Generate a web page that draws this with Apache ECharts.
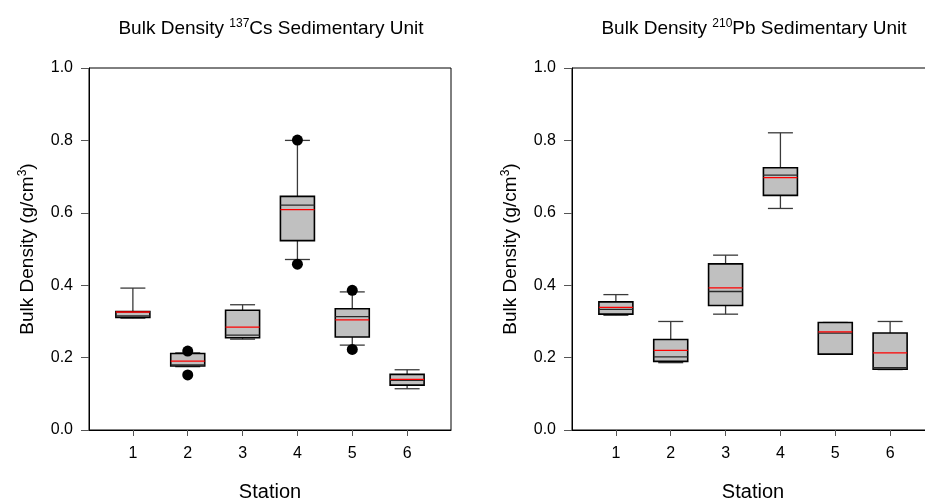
<!DOCTYPE html>
<html>
<head>
<meta charset="utf-8">
<script src="https://cdn.jsdelivr.net/npm/echarts@6/dist/echarts.min.js"></script>
<style>
  html, body { margin: 0; padding: 0; background: #fff; }
  #chart { width: 925px; height: 502px; }
</style>
</head>
<body>
<div id="chart"></div>
<script>
// Stations sampled in each sedimentary unit
const stations = [1, 2, 3, 4, 5, 6];

// 137Cs sedimentary unit: bulk density statistics per station (g/cm3)
const csWhiskerLow  = [0.309, 0.175, 0.251, 0.471, 0.2345, 0.114];
const csQ1          = [0.311, 0.177, 0.255, 0.523, 0.257, 0.124];
const csMedian      = [0.315, 0.180, 0.262, 0.621, 0.313, 0.137];
const csQ3          = [0.327, 0.2115, 0.331, 0.6455, 0.335, 0.1536];
const csWhiskerHigh = [0.392, 0.213, 0.346, 0.800, 0.3815, 0.1664];
const csMean        = [0.326, 0.190, 0.284, 0.609, 0.304, 0.140];
const csOutlierStation = [2, 2, 4, 4, 5, 5];
const csOutlierValue   = [0.218, 0.152, 0.801, 0.458, 0.386, 0.2226];

// 210Pb sedimentary unit: bulk density statistics per station (g/cm3)
const pbWhiskerLow  = [0.317, 0.186, 0.320, 0.612, 0.2097, 0.167];
const pbQ1          = [0.320, 0.1895, 0.344, 0.648, 0.2097, 0.168];
const pbMedian      = [0.333, 0.202, 0.3826, 0.704, 0.2676, 0.172];
const pbQ3          = [0.354, 0.250, 0.459, 0.7246, 0.297, 0.268];
const pbWhiskerHigh = [0.374, 0.2998, 0.483, 0.821, 0.297, 0.2998];
const pbMean        = [0.339, 0.220, 0.3926, 0.697, 0.271, 0.213];

// Axis tick labels
const yTicks = [0.0, 0.2, 0.4, 0.6, 0.8, 1.0];

const FONT = "'Liberation Sans', Arial, sans-serif";

function boxRows(low, q1, med, q3, high, mean) {
  return stations.map((s, i) => [s, low[i], q1[i], med[i], q3[i], high[i], mean[i]]);
}

// Box-and-whisker glyph: gray box (25th-75th), black median, red mean, capped whiskers
function renderBox(params, api) {
  const x = api.value(0);
  const pLow = api.coord([x, api.value(1)]);
  const pQ1 = api.coord([x, api.value(2)]);
  const pMed = api.coord([x, api.value(3)]);
  const pQ3 = api.coord([x, api.value(4)]);
  const pHigh = api.coord([x, api.value(5)]);
  const pMean = api.coord([x, api.value(6)]);
  const cx = pQ1[0];
  const halfBox = 17;
  const halfCap = 12.5;
  const whisk = { stroke: '#3a3a3a', lineWidth: 1.3 };
  const children = [
    { type: 'line', shape: { x1: cx, y1: pQ3[1], x2: cx, y2: pHigh[1] }, style: whisk },
    { type: 'line', shape: { x1: cx, y1: pQ1[1], x2: cx, y2: pLow[1] }, style: whisk },
    { type: 'line', shape: { x1: cx - halfCap, y1: pHigh[1], x2: cx + halfCap, y2: pHigh[1] }, style: whisk },
    { type: 'line', shape: { x1: cx - halfCap, y1: pLow[1], x2: cx + halfCap, y2: pLow[1] }, style: whisk },
    { type: 'rect', shape: { x: cx - halfBox, y: pQ3[1], width: halfBox * 2, height: pQ1[1] - pQ3[1] },
      style: { fill: '#c0c0c0', stroke: '#000', lineWidth: 1.6 } },
    { type: 'line', shape: { x1: cx - halfBox, y1: pMed[1], x2: cx + halfBox, y2: pMed[1] },
      style: { stroke: '#2a2a2a', lineWidth: 1.3 } },
    { type: 'line', shape: { x1: cx - halfBox, y1: pMean[1], x2: cx + halfBox, y2: pMean[1] },
      style: { stroke: '#ff0000', lineWidth: 1.3 } }
  ];
  return { type: 'group', children };
}

function titleText(iso, element) {
  return '{a|Bulk Density }{s|' + iso + '}{a|' + element + ' Sedimentary Unit}';
}

const titleRich = {
  a: { fontSize: 19, fontFamily: FONT, fontWeight: 'normal', color: '#000', lineHeight: 24 },
  s: { fontSize: 12, fontFamily: FONT, fontWeight: 'normal', color: '#000', lineHeight: 24, padding: [0, 0, 10, 0] }
};

const nameRich = {
  a: { fontSize: 19, fontFamily: FONT, color: '#000', lineHeight: 24 },
  s: { fontSize: 12, fontFamily: FONT, color: '#000', lineHeight: 24, padding: [0, 0, 10, 0] }
};

function xAxisFor(gridIndex) {
  return {
    type: 'value', gridIndex, min: 0.2, max: 6.8,
    name: 'Station', nameLocation: 'middle', nameGap: 52,
    nameTextStyle: { fontSize: 20, fontFamily: FONT, color: '#000' },
    axisLine: { show: true, lineStyle: { color: '#000', width: 1 } },
    axisTick: { show: true, customValues: stations, length: 6, lineStyle: { color: '#555' } },
    axisLabel: { customValues: stations, fontSize: 16, fontFamily: FONT, color: '#000', margin: 16 },
    splitLine: { show: false }
  };
}

function yAxisFor(gridIndex) {
  return {
    type: 'value', gridIndex, min: 0, max: 1, interval: 0.2,
    name: '{a|Bulk Density (g/cm}{s|3}{a|)}', nameLocation: 'middle', nameGap: 49,
    nameTextStyle: { rich: nameRich },
    axisLine: { show: true, lineStyle: { color: '#000', width: 1 } },
    axisTick: { show: true, inside: false, length: 8, lineStyle: { color: '#555' } },
    axisLabel: { fontSize: 16, fontFamily: FONT, color: '#000', margin: 16,
      formatter: v => yTicks.find(t => Math.abs(t - v) < 1e-9).toFixed(1) },
    splitLine: { show: false }
  };
}

const chart = echarts.init(document.getElementById('chart'), null, { renderer: 'canvas' });
chart.setOption({
  animation: false,
  backgroundColor: '#fff',
  title: [
    { text: titleText('137', 'Cs'), left: 266, top: 12, textAlign: 'center', textStyle: { rich: titleRich } },
    { text: titleText('210', 'Pb'), left: 749, top: 12, textAlign: 'center', textStyle: { rich: titleRich } }
  ],
  grid: [
    { left: 89, top: 68, width: 362, height: 362, outerBoundsMode: 'none', containLabel: false,
      show: true, borderColor: '#000', borderWidth: 1, backgroundColor: 'transparent' },
    { left: 572, top: 68, width: 362, height: 362, outerBoundsMode: 'none', containLabel: false,
      show: true, borderColor: '#000', borderWidth: 1, backgroundColor: 'transparent' }
  ],
  xAxis: [xAxisFor(0), xAxisFor(1)],
  yAxis: [yAxisFor(0), yAxisFor(1)],
  series: [
    { type: 'custom', xAxisIndex: 0, yAxisIndex: 0, renderItem: renderBox,
      data: boxRows(csWhiskerLow, csQ1, csMedian, csQ3, csWhiskerHigh, csMean) },
    { type: 'scatter', xAxisIndex: 0, yAxisIndex: 0, symbolSize: 11,
      itemStyle: { color: '#000', opacity: 1 },
      data: csOutlierStation.map((s, i) => [s, csOutlierValue[i]]) },
    { type: 'custom', xAxisIndex: 1, yAxisIndex: 1, renderItem: renderBox,
      data: boxRows(pbWhiskerLow, pbQ1, pbMedian, pbQ3, pbWhiskerHigh, pbMean) }
  ]
});
</script>
</body>
</html>
